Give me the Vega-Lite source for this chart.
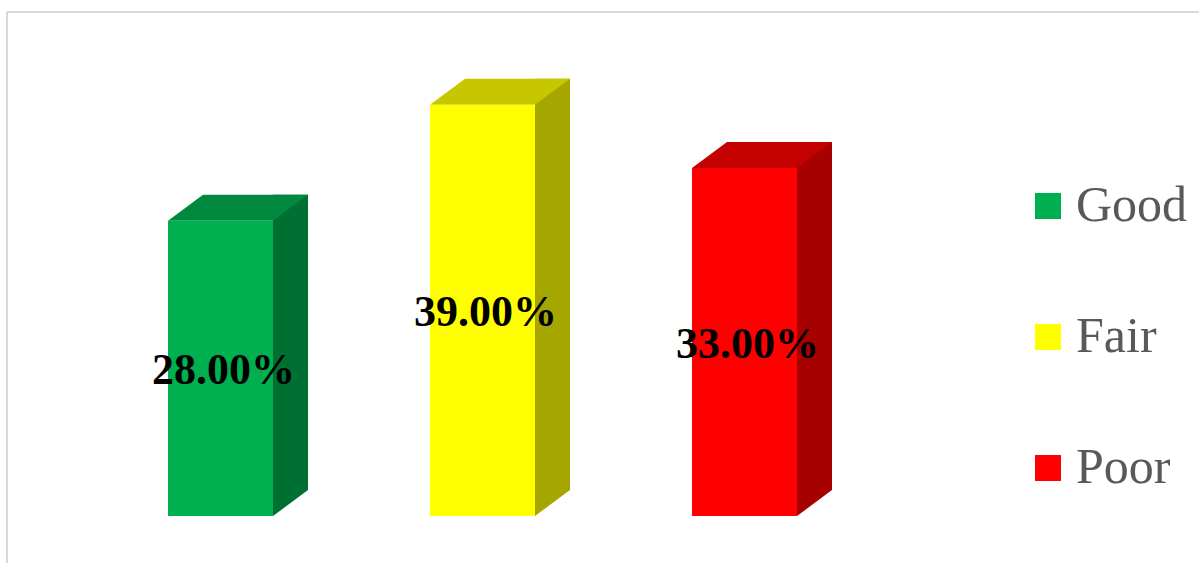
{
  "$schema": "https://vega.github.io/schema/vega-lite/v6.json",
  "autosize": {"type": "none"},
  "padding": {"left": 7, "top": 12, "right": 0, "bottom": 0},
  "width": 1192,
  "height": 551,
  "background": "white",
  "config": {
    "view": {"stroke": "#d9d9d9", "strokeWidth": 2, "strokeDash": [1192, 1743, 551, 0]},
    "font": "Liberation Serif"
  },
  "data": {
    "values": [
      {"category": "Good", "value": 28, "label": "28.00%"},
      {"category": "Fair", "value": 39, "label": "39.00%"},
      {"category": "Poor", "value": 33, "label": "33.00%"}
    ]
  },
  "encoding": {
    "x": {
      "field": "category",
      "type": "nominal",
      "sort": ["Good", "Fair", "Poor"],
      "scale": {"range": [82.5, 868.5], "paddingInner": 0, "paddingOuter": 0},
      "axis": null
    }
  },
  "layer": [
    {
      "encoding": {
        "y": {"field": "value", "type": "quantitative", "scale": {"domain": [0, 47.8], "range": [504, 0]}, "axis": null}
      },
      "layer": [
        {
          "mark": {"type": "bar", "width": 35, "xOffset": 70, "yOffset": -26, "y2Offset": -26, "strokeWidth": 0},
          "encoding": {
            "y2": {"datum": 0},
            "fill": {
              "condition": [
                {"test": "datum.category === 'Good'", "value": "#006f32"},
                {"test": "datum.category === 'Fair'", "value": "#a6a600"}
              ],
              "value": "#a60000"
            }
          }
        },
        {
          "mark": {"type": "point", "shape": "M-1,-0.743L-1,0.743L1,-0.743Z", "size": 1225, "filled": true, "opacity": 1, "strokeWidth": 0, "xOffset": 70, "yOffset": -13},
          "encoding": {
            "y": {"datum": 0, "type": "quantitative", "axis": null},
            "fill": {
              "condition": [
                {"test": "datum.category === 'Good'", "value": "#006f32"},
                {"test": "datum.category === 'Fair'", "value": "#a6a600"}
              ],
              "value": "#a60000"
            }
          }
        },
        {
          "mark": {"type": "point", "shape": "M-1,0.1857L0.5,0.1857L1,-0.1857L-0.5,-0.1857Z", "size": 19600, "filled": true, "opacity": 1, "strokeWidth": 0, "xOffset": 17.5, "yOffset": -13},
          "encoding": {
            "fill": {
              "condition": [
                {"test": "datum.category === 'Good'", "value": "#00893e"},
                {"test": "datum.category === 'Fair'", "value": "#c7c700"}
              ],
              "value": "#c40000"
            }
          }
        },
        {
          "mark": {"type": "bar", "width": 105, "strokeWidth": 0},
          "encoding": {
            "y2": {"datum": 0},
            "color": {
              "field": "category",
              "type": "nominal",
              "scale": {"domain": ["Good", "Fair", "Poor"], "range": ["#00b050", "#ffff00", "#ff0000"]},
              "legend": {
                "title": null,
                "orient": "none",
                "legendX": 1016,
                "legendY": 169,
                "padding": 0,
                "symbolType": "square",
                "symbolSize": 676,
                "symbolStrokeWidth": 0,
                "labelFont": "Liberation Serif",
                "labelFontSize": 50,
                "labelColor": "#595959",
                "labelOffset": 3,
                "rowPadding": 81,
                "labelLimit": 300
              }
            }
          }
        }
      ]
    },
    {
      "mark": {"type": "text", "font": "Liberation Serif", "fontWeight": "bold", "fontSize": 44, "color": "black", "baseline": "middle", "align": "center", "dx": 3, "dy": 3},
      "encoding": {
        "y": {"field": "value", "type": "quantitative", "scale": {"domain": [0, 95.6], "range": [504, 0]}, "axis": null},
        "text": {"field": "label"}
      }
    }
  ],
  "resolve": {"scale": {"y": "independent"}}
}
